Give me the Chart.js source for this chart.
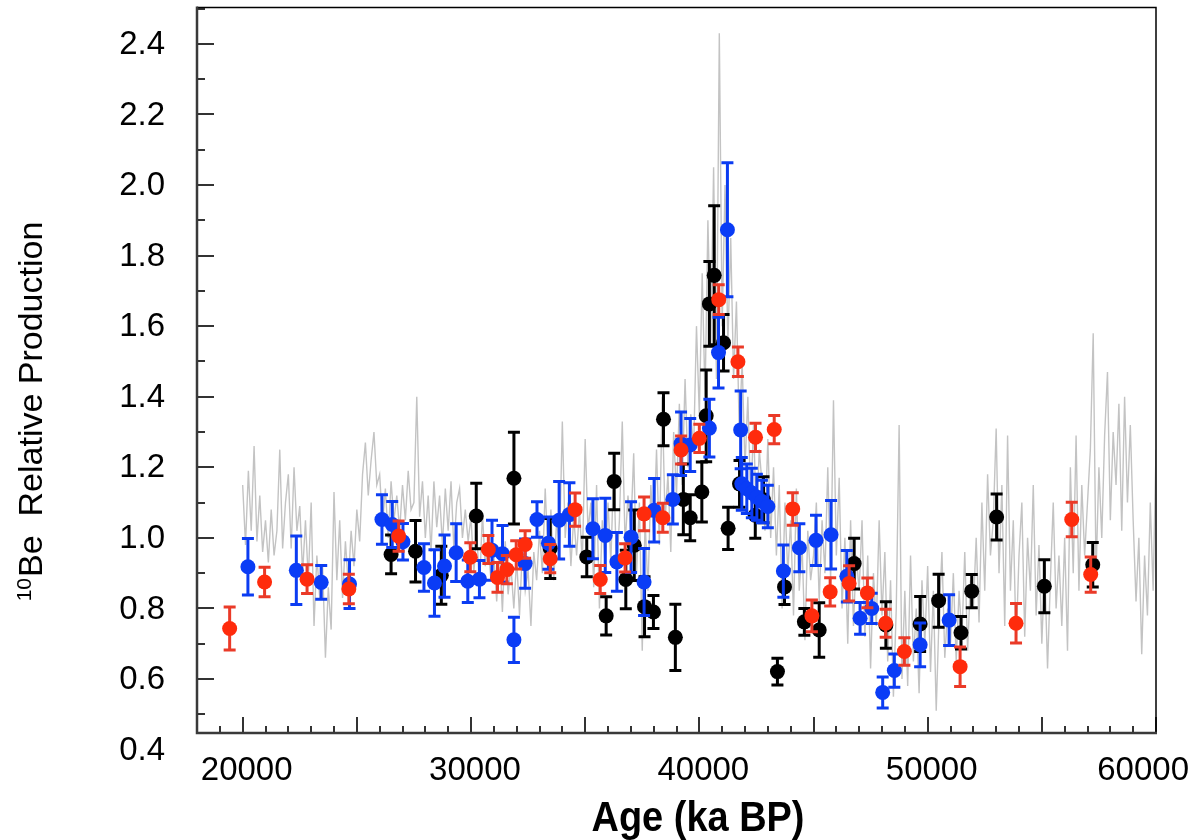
<!DOCTYPE html>
<html>
<head>
<meta charset="utf-8">
<script src="https://cdn.jsdelivr.net/npm/chart.js@4.4.1/dist/chart.umd.min.js"></script>
<style>
  html, body { margin: 0; padding: 0; background: #fff; }
  canvas { display: block; }
</style>
</head>
<body>
<canvas id="beChart" width="1194" height="840"></canvas>
<script>
// --- tick labels ---
const xTickValues = [20000, 30000, 40000, 50000, 60000];
const yTickValues = [0.4, 0.6, 0.8, 1.0, 1.2, 1.4, 1.6, 1.8, 2.0, 2.2, 2.4];

// --- black series: age, value, error ---
const blackAge = [26500, 27570, 28700, 30230, 31880, 33470, 35070, 35920, 36270, 36780,
  37150, 37600, 37990, 38430, 38950, 39300, 39600, 40110, 40300, 40440,
  40650, 41060, 41260, 41760, 42450, 42810, 43420, 43730, 44600, 45250,
  46780, 48170, 49670, 50480, 51460, 51930, 53020, 55110, 57230];
const blackVal = [0.953, 0.962, 0.894, 1.062, 1.169, 0.970, 0.946, 0.779, 1.160, 0.882,
  0.979, 0.805, 0.790, 1.336, 0.718, 1.109, 1.057, 1.130, 1.346, 1.663,
  1.744, 1.553, 1.027, 1.153, 1.064, 1.108, 0.621, 0.861, 0.762, 0.739,
  0.927, 0.753, 0.756, 0.822, 0.731, 0.849, 1.059, 0.863, 0.924];
const blackErr = [0.055, 0.087, 0.082, 0.093, 0.130, 0.085, 0.056, 0.054, 0.080, 0.083,
  0.100, 0.085, 0.047, 0.075, 0.094, 0.100, 0.065, 0.085, 0.130, 0.120,
  0.197, 0.080, 0.060, 0.066, 0.065, 0.065, 0.038, 0.050, 0.038, 0.077,
  0.072, 0.066, 0.078, 0.075, 0.046, 0.047, 0.065, 0.075, 0.063];

// --- red series ---
const redAge = [19430, 20960, 22820, 24650, 26830, 29970, 30760, 31160, 31570, 31980,
  32370, 33470, 34560, 35660, 36750, 37580, 38400, 39200, 40000, 40850,
  41690, 42460, 43280, 44090, 44930, 45730, 46560, 47360, 48160, 48980,
  51420, 53870, 56310, 57140];
const redVal = [0.743, 0.875, 0.883, 0.855, 1.005, 0.945, 0.967, 0.888, 0.910, 0.952,
  0.981, 0.941, 1.080, 0.882, 0.943, 1.068, 1.057, 1.249, 1.282, 1.675,
  1.499, 1.285, 1.307, 1.082, 0.779, 0.847, 0.871, 0.844, 0.758, 0.678,
  0.635, 0.758, 1.052, 0.896];
const redErr = [0.061, 0.042, 0.041, 0.042, 0.043, 0.041, 0.040, 0.042, 0.040, 0.040,
  0.039, 0.040, 0.047, 0.040, 0.040, 0.048, 0.041, 0.040, 0.040, 0.042,
  0.042, 0.040, 0.040, 0.046, 0.045, 0.040, 0.050, 0.042, 0.040, 0.039,
  0.056, 0.056, 0.049, 0.050];

// --- blue series ---
const blueAge = [20230, 22350, 23440, 24680, 26100, 26550, 27020, 27940, 28400, 28840,
  29350, 29860, 30370, 30920, 31380, 31880, 32370, 32890, 33390, 33860,
  34310, 35340, 35880, 36390, 37010, 37580, 38020, 38840, 39200, 39600,
  40440, 40840, 41230, 41810, 41860, 42080, 42300, 42520, 42740, 43000,
  43680, 44380, 45110, 45770, 46460, 47040, 47550, 48030, 48540, 49670,
  50940];
const blueVal = [0.918, 0.908, 0.874, 0.869, 1.052, 1.038, 0.989, 0.916, 0.872, 0.920,
  0.958, 0.877, 0.883, 0.965, 0.955, 0.711, 0.927, 1.052, 0.985, 1.050,
  1.066, 1.026, 1.007, 0.932, 1.002, 0.875, 1.078, 1.109, 1.267, 1.263,
  1.311, 1.525, 1.873, 1.306, 1.153, 1.139, 1.127, 1.115, 1.103, 1.089,
  0.906, 0.972, 0.993, 1.009, 0.891, 0.772, 0.800, 0.562, 0.624, 0.697,
  0.767];
const blueErr = [0.080, 0.097, 0.048, 0.069, 0.070, 0.065, 0.052, 0.067, 0.094, 0.088,
  0.082, 0.060, 0.053, 0.085, 0.080, 0.064, 0.070, 0.050, 0.074, 0.110,
  0.090, 0.085, 0.105, 0.083, 0.100, 0.095, 0.090, 0.070, 0.090, 0.075,
  0.082, 0.100, 0.190, 0.110, 0.075, 0.070, 0.070, 0.065, 0.060, 0.060,
  0.074, 0.068, 0.071, 0.097, 0.073, 0.045, 0.043, 0.044, 0.047, 0.062,
  0.072];

// --- grey high-resolution record, one value every 125 years from 20000 ---
const greyStartAge = 20000;
const greyStep = 125;
const greyVal = [
  1.15, 0.98, 1.19, 1.02, 1.26, 0.99, 1.12, 0.96,   // 20 ka
  1.05, 0.93, 1.08, 0.95, 1.02, 1.25, 0.97, 1.10,   // 21
  1.18, 0.97, 1.20, 1.02, 1.09, 0.90, 1.05, 0.88,   // 22
  1.10, 0.75, 0.95, 0.83, 0.92, 0.66, 0.86, 0.74,   // 23
  1.13, 0.88, 1.05, 0.83, 0.99, 0.87, 1.02, 0.92,   // 24
  1.08, 0.99, 1.18, 1.27, 1.12, 1.22, 1.30, 1.15,   // 25
  1.18, 1.04, 1.14, 1.00, 1.16, 1.05, 1.12, 1.02,   // 26
  1.15, 1.05, 1.19, 1.08, 1.10, 1.40, 1.06, 1.16,   // 27
  1.00, 1.12, 0.96, 1.16, 1.03, 1.12, 0.98, 1.14,   // 28
  1.02, 1.16, 0.97, 1.10, 1.14, 1.00, 1.08, 0.99,   // 29
  1.06, 0.90, 1.02, 0.86, 1.07, 0.92, 0.98, 0.88,   // 30
  0.95, 0.82, 0.97, 0.79, 0.99, 0.84, 0.92, 0.80,   // 31
  0.94, 0.78, 0.97, 0.85, 0.91, 0.75, 0.96, 0.88,   // 32
  1.02, 0.90, 1.14, 0.95, 1.08, 0.88, 1.05, 0.97,   // 33
  1.33, 1.00, 1.10, 0.92, 1.06, 0.95, 1.08, 0.93,   // 34
  1.28, 1.02, 1.10, 0.86, 1.15, 0.80, 1.05, 0.92,   // 35
  1.10, 0.93, 1.20, 0.91, 1.05, 1.33, 0.98, 1.12,   // 36
  1.02, 1.24, 0.90, 1.10, 0.68, 1.05, 0.85, 1.15,   // 37
  1.00, 1.25, 0.98, 1.40, 1.05, 1.18, 0.96, 1.30,   // 38
  1.12, 1.38, 1.15, 1.45, 1.20, 1.35, 1.25, 1.60,   // 39
  1.35, 1.75, 1.40, 1.90, 1.55, 2.05, 1.45, 2.43,   // 40
  1.60, 2.00, 1.55, 1.85, 1.45, 1.67, 1.30, 1.50,   // 41
  1.20, 1.40, 1.10, 1.32, 1.05, 1.25, 1.15, 1.02,   // 42
  1.28, 1.00, 1.20, 0.95, 1.15, 0.80, 1.10, 0.90,   // 43
  1.05, 0.78, 1.14, 0.85, 0.98, 0.71, 1.02, 0.88,   // 44
  0.95, 1.10, 0.82, 1.05, 0.90, 1.20, 0.88, 1.39,   // 45
  0.95, 1.17, 0.80, 1.00, 0.70, 1.05, 0.75, 0.95,   // 46
  0.85, 1.05, 0.72, 0.95, 0.63, 0.90, 0.75, 1.05,   // 47
  0.78, 0.96, 0.65, 0.88, 0.55, 0.80, 1.32, 0.60,   // 48
  0.85, 0.58, 0.95, 0.65, 0.80, 0.56, 0.88, 0.70,   // 49
  0.92, 0.62, 0.85, 0.51, 0.78, 0.96, 0.66, 0.80,   // 50
  0.70, 0.90, 0.65, 0.85, 0.72, 0.96, 0.68, 0.88,   // 51
  0.80, 1.00, 0.76, 1.10, 0.85, 1.18, 0.95, 1.05,   // 52
  1.31, 0.90, 1.15, 0.75, 1.29, 0.85, 1.05, 0.70,   // 53
  0.95, 1.10, 0.72, 1.00, 0.85, 1.15, 0.78, 0.98,   // 54
  0.70, 0.92, 0.63, 0.88, 1.10, 0.80, 0.95, 0.75,   // 55
  1.00, 0.68, 1.20, 0.90, 1.29, 0.85, 1.15, 0.95,   // 56
  1.10, 1.25, 1.58, 0.90, 1.20, 1.00, 1.29, 1.47,   // 57
  1.05, 1.30, 1.15, 1.38, 1.02, 1.40, 1.10, 1.32,   // 58
  1.05, 0.82, 1.00, 0.67, 0.95, 0.78, 1.10, 0.85,   // 59
  1.25                                              // 60
];

const toPoints = (ages, vals) => ages.map((a, i) => ({ x: a, y: vals[i] }));
const greyPoints = greyVal.map((v, i) => ({ x: greyStartAge + i * greyStep, y: v }));

const LABEL_FONT = "33px 'Liberation Sans', Arial, Helvetica, sans-serif";

// draws error bars right before each dataset's points so layering matches
const errorBars = {
  id: 'errorBars',
  beforeDatasetDraw(chart, args) {
    const ds = chart.data.datasets[args.index];
    if (!ds.errors) return;
    const { ctx } = chart;
    const xs = chart.scales.x, ys = chart.scales.y;
    ctx.save();
    ctx.strokeStyle = ds.barColor;
    ctx.lineWidth = 3;
    ds.data.forEach((p, i) => {
      const px = xs.getPixelForValue(p.x);
      const top = ys.getPixelForValue(p.y + ds.errors[i]);
      const bot = ys.getPixelForValue(p.y - ds.errors[i]);
      ctx.beginPath();
      ctx.moveTo(px, top); ctx.lineTo(px, bot);
      ctx.moveTo(px - 6, top); ctx.lineTo(px + 6, top);
      ctx.moveTo(px - 6, bot); ctx.lineTo(px + 6, bot);
      ctx.stroke();
    });
    ctx.restore();
  }
};

// frame, inward ticks, tick labels and axis titles
const axesFrame = {
  id: 'axesFrame',
  afterDraw(chart) {
    const { ctx, chartArea: a } = chart;
    const xs = chart.scales.x, ys = chart.scales.y;
    ctx.save();

    // ticks
    ctx.strokeStyle = '#333';
    ctx.lineWidth = 2;
    ctx.beginPath();
    for (let v = 18000; v <= 60000; v += 1000) {
      const px = Math.round(xs.getPixelForValue(v));
      const len = v % 5000 === 0 ? 16 : 7;
      ctx.moveTo(px, a.bottom); ctx.lineTo(px, a.bottom - len);
    }
    for (let k = 5; k <= 25; k++) {
      const v = k / 10;
      if (v < ys.min || v > ys.max) continue;
      const py = Math.round(ys.getPixelForValue(v));
      const len = k % 2 === 0 ? 17 : 8;
      ctx.moveTo(a.left, py); ctx.lineTo(a.left + len, py);
    }
    ctx.stroke();

    // frame
    ctx.strokeStyle = '#000';
    ctx.lineWidth = 1.5;
    ctx.beginPath();
    ctx.moveTo(a.left, a.top); ctx.lineTo(a.right, a.top); ctx.lineTo(a.right, a.bottom);
    ctx.stroke();
    ctx.strokeStyle = '#3a3a3a';
    ctx.lineWidth = 2.5;
    ctx.beginPath();
    ctx.moveTo(a.left, a.top - 1); ctx.lineTo(a.left, a.bottom); ctx.lineTo(a.right + 1, a.bottom);
    ctx.stroke();

    // tick labels
    ctx.fillStyle = '#000';
    ctx.font = LABEL_FONT;
    ctx.textAlign = 'right';
    ctx.textBaseline = 'middle';
    yTickValues.forEach(v => ctx.fillText(v.toFixed(1), 165, ys.getPixelForValue(v) + 1));
    ctx.textAlign = 'center';
    ctx.textBaseline = 'alphabetic';
    xTickValues.forEach(v => {
      const label = String(v);
      const w = ctx.measureText(label).width;
      let cx = xs.getPixelForValue(v) + 4;
      if (cx + w / 2 > 1189) cx = 1189 - w / 2;
      ctx.fillText(label, cx, 780);
    });

    // x title
    ctx.font = "bold 42px 'Liberation Sans Narrow', 'Liberation Sans', Arial, sans-serif";
    const xt = 'Age (ka BP)';
    const xw = ctx.measureText(xt).width;
    ctx.save();
    ctx.translate(698, 831);
    ctx.scale(Math.min(1, 213 / xw), 1);
    ctx.fillText(xt, 0, 0);
    ctx.restore();

    // y title with superscript mass number
    ctx.save();
    ctx.translate(42, 412);
    ctx.rotate(-Math.PI / 2);
    ctx.textAlign = 'left';
    const supFont = "21px 'Liberation Sans', Arial, sans-serif";
    const mainFont = "34px 'Liberation Sans', Arial, sans-serif";
    const sup = '10', main = 'Be  Relative Production';
    ctx.font = supFont; const sw = ctx.measureText(sup).width;
    ctx.font = mainFont; const mw = ctx.measureText(main).width;
    const sx = Math.min(1, 400 / (sw + mw));
    ctx.scale(sx, 1);
    const start = -(sw + mw) / 2;
    ctx.font = supFont; ctx.fillText(sup, start, -11);
    ctx.font = mainFont; ctx.fillText(main, start + sw + 1, 0);
    ctx.restore();

    ctx.restore();
  }
};

const dotStyle = (color) => ({
  pointRadius: 7.5, pointHoverRadius: 7.5,
  pointBackgroundColor: color, pointBorderWidth: 0, borderColor: color, backgroundColor: color
});

new Chart(document.getElementById('beChart').getContext('2d'), {
  type: 'scatter',
  data: {
    datasets: [
      Object.assign({ label: 'red', data: toPoints(redAge, redVal), errors: redErr, barColor: '#ea3a28', order: 1 }, dotStyle('#ff2b0c')),
      Object.assign({ label: 'blue', data: toPoints(blueAge, blueVal), errors: blueErr, barColor: '#0b3cf2', order: 2 }, dotStyle('#0a3cf6')),
      Object.assign({ label: 'black', data: toPoints(blackAge, blackVal), errors: blackErr, barColor: '#000', order: 3 }, dotStyle('#000')),
      {
        label: 'grey', data: greyPoints, showLine: true, order: 4,
        borderColor: '#c3c3c3', borderWidth: 1.4, pointRadius: 0, tension: 0
      }
    ]
  },
  options: {
    responsive: false,
    devicePixelRatio: 1,
    animation: false,
    events: [],
    layout: { padding: { left: 197, right: 38, top: 5, bottom: 107 } },
    plugins: { legend: { display: false }, tooltip: { enabled: false } },
    scales: {
      x: { type: 'linear', min: 18000, max: 60000, display: false },
      y: { type: 'linear', min: 0.447, max: 2.503, display: false }
    }
  },
  plugins: [errorBars, axesFrame]
});
</script>
</body>
</html>
